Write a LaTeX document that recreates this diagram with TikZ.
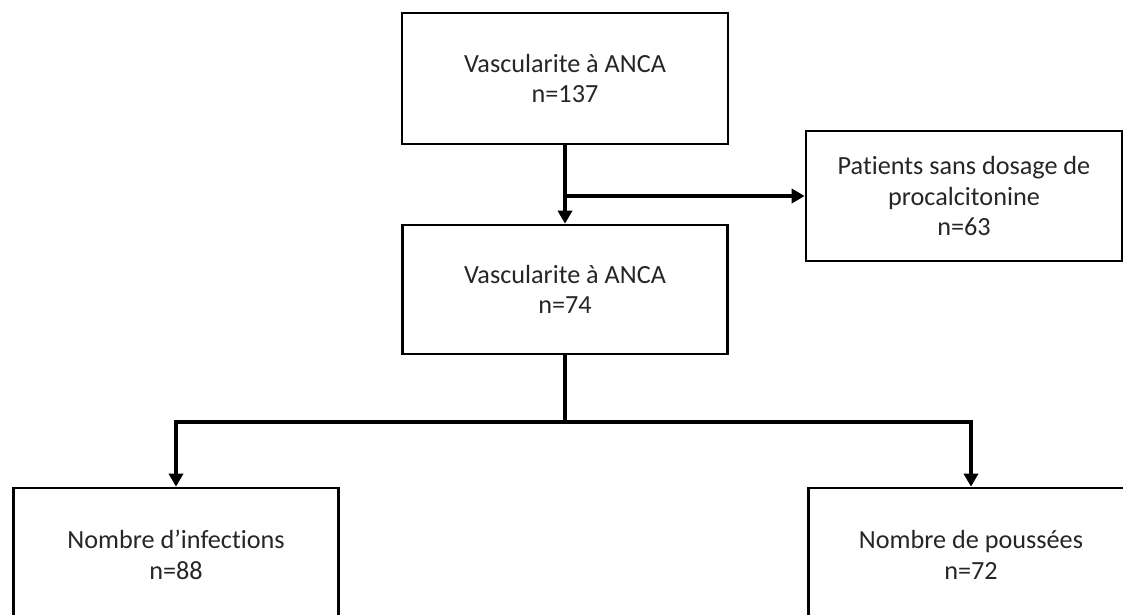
\documentclass[tikz,border=0pt]{standalone}
\usepackage{fontspec}
\setmainfont[Ligatures={NoCommon}]{Carlito}
\usetikzlibrary{arrows.meta}
\begin{document}
\begin{tikzpicture}[x=1pt,y=-1pt,
  box/.style={draw=black,line width=2.6pt,rectangle,inner sep=0pt,align=center,
    font=\fontsize{26.2}{30.5}\selectfont,text=black!85},
  arr/.style={line width=4pt,-{Triangle[width=14pt,length=13pt]}},
  conn/.style={line width=4pt}]
\useasboundingbox (0,0) rectangle (1123,614);
\clip (0,0) rectangle (1123,614);
\fill[white] (0,0) rectangle (1123,614);
\node[box,minimum width=326pt,minimum height=131pt] (b1) at (565,78.5) {Vascularite à ANCA\\n=137};
\node[box,minimum width=316pt,minimum height=130pt] (b2) at (964,196) {Patients sans dosage de\\procalcitonine\\n=63};
\node[box,minimum width=325pt,minimum height=129pt] (b3) at (565,289.5) {Vascularite à ANCA\\n=74};
\node[box,minimum width=325pt,minimum height=134pt] (b4) at (176,555) {Nombre d’infections\\n=88};
\node[box,minimum width=325pt,minimum height=134pt] (b5) at (971,555) {Nombre de poussées\\n=72};
\draw[arr] (b1.south) -- (b3.north);
\coordinate (s) at (b1.south |- b2.west);
\draw[arr] (s) -- (b2.west);
\draw[conn] (b3.south) -- ++(0,67) coordinate (j);
\draw[arr] ([xshift=2pt]j) -| (b4.north);
\draw[arr] ([xshift=-2pt]j) -| (b5.north);
\end{tikzpicture}
\end{document}
